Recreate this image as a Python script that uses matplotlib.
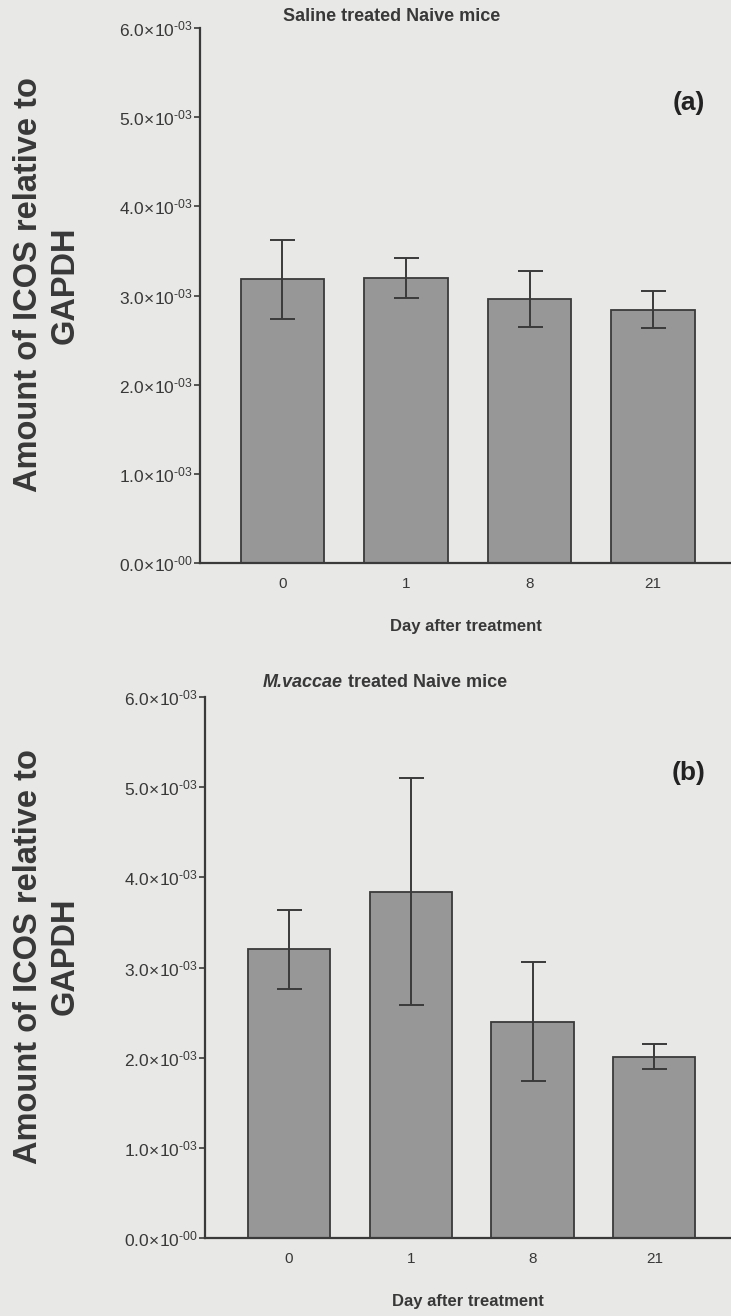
"""
ICOS expression relative to GAPDH after saline or M. vaccae treatment.
Two stacked bar panels with SEM error bars.
"""
import numpy as np
import matplotlib
matplotlib.use("Agg")
import matplotlib.pyplot as plt

plt.rcParams["font.family"] = ["Liberation Sans", "DejaVu Sans"]
plt.rcParams["mathtext.fontset"] = "custom"
plt.rcParams["mathtext.rm"] = "Liberation Sans"
plt.rcParams["mathtext.it"] = "Liberation Sans:italic"
plt.rcParams["mathtext.bf"] = "Liberation Sans:bold"
plt.rcParams["mathtext.default"] = "regular"

days = ["0", "1", "8", "21"]
yticks = [0.0, 1e-3, 2e-3, 3e-3, 4e-3, 5e-3, 6e-3]

saline_mean = [3.18e-3, 3.20e-3, 2.96e-3, 2.84e-3]
saline_err  = [0.44e-3, 0.225e-3, 0.31e-3, 0.21e-3]

vaccae_mean = [3.20e-3, 3.84e-3, 2.40e-3, 2.01e-3]
vaccae_err  = [0.44e-3, 1.26e-3, 0.66e-3, 0.14e-3]

BG = "#e8e8e6"
BAR = "#979797"
EDGE = "#3a3a3a"
TXT = "#383838"

def sci_label(v):
    if v == 0:
        return r"$0.0\!\times\!10^{\text{-00}}$"
    e = int(np.floor(np.log10(v)))
    return r"$%.1f\!\times\!10^{\text{-0%d}}$" % (v / 10**e, -e)

def draw_panel(ax, means, errs, x0):
    x = np.arange(len(days))
    ax.set_facecolor(BG)
    ax.bar(x, means, width=0.675, color=BAR, edgecolor=EDGE, linewidth=1.3, zorder=2)
    ax.errorbar(x, means, yerr=errs, fmt="none", ecolor=EDGE, elinewidth=1.4,
                capsize=9, capthick=1.4, zorder=3)
    ax.set_xlim(x0, 3.63)
    ax.set_ylim(0, 6e-3)
    ax.set_yticks(yticks)
    ax.set_yticklabels([sci_label(v) for v in yticks], fontsize=12.5, color=TXT)
    ax.set_xticks(x)
    ax.set_xticklabels(days, fontsize=11, color=TXT)
    ax.tick_params(axis="x", length=0, pad=10)
    ax.tick_params(axis="y", length=4, width=1.2, color=EDGE, pad=1)
    for s in ["top", "right"]:
        ax.spines[s].set_visible(False)
    for s in ["left", "bottom"]:
        ax.spines[s].set_color(EDGE)
        ax.spines[s].set_linewidth(1.6)
    ax.set_xlabel("Day after treatment", fontsize=12, fontweight="bold",
                  color=TXT, labelpad=20)

def ylabel(fig, ax):
    pos = ax.get_position()
    fig.text(47 / 731, pos.y0 + pos.height * 0.52, "Amount of ICOS relative to\nGAPDH",
             rotation=90, ha="center", va="center", multialignment="center",
             fontsize=23.5, fontweight="bold", color=TXT, linespacing=1.22)

fig = plt.figure(figsize=(7.31, 13.16), dpi=100, facecolor=BG)

ax1 = fig.add_axes([200 / 731, 1 - 563 / 1316, 531 / 731, 535 / 1316])
draw_panel(ax1, saline_mean, saline_err, -0.667)
ylabel(fig, ax1)
ax1.text(0.36, 1.006, "Saline treated Naive mice", transform=ax1.transAxes,
         fontsize=13, fontweight="bold", color=TXT, ha="center", va="bottom")
ax1.text(0.92, 0.86, "(a)", transform=ax1.transAxes, fontsize=19,
         fontweight="bold", color="#222222", ha="center", va="center")

ax2 = fig.add_axes([205 / 731, 1 - 1238 / 1316, 526 / 731, 541 / 1316])
draw_panel(ax2, vaccae_mean, vaccae_err, -0.69)
ylabel(fig, ax2)
t1 = ax2.text(0.11, 1.012, "M.vaccae", transform=ax2.transAxes, fontsize=13,
              fontweight="bold", fontstyle="italic", color=TXT, ha="left", va="bottom")
ax2.annotate(" treated Naive mice", xy=(1, 0), xycoords=t1, fontsize=13,
             fontweight="bold", color=TXT, ha="left", va="bottom")
ax2.text(0.92, 0.86, "(b)", transform=ax2.transAxes, fontsize=19,
         fontweight="bold", color="#222222", ha="center", va="center")

fig.savefig("out.png", dpi=100, facecolor=BG)
